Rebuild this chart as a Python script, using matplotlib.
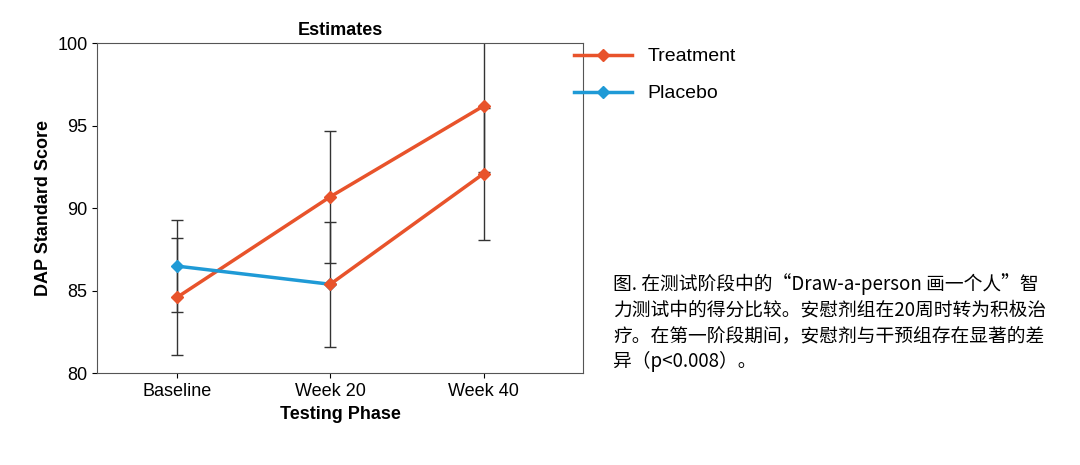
import numpy as np
import matplotlib.pyplot as plt

plt.rcParams['font.family'] = ['Liberation Sans', 'Noto Sans CJK SC', 'DejaVu Sans']

phases = ["Baseline", "Week 20", "Week 40"]
treat_mean = [84.6, 90.7, 96.2]
treat_lo = [81.1, 86.7, 92.2]
treat_hi = [88.2, 94.7, 100.4]
plac_mean = [86.5, 85.4, 92.1]
plac_lo = [83.7, 81.6, 88.1]
plac_hi = [89.3, 89.2, 96.1]

ORANGE = "#e8532b"
BLUE = "#1f9ad6"

fig = plt.figure(figsize=(10.8, 4.65), dpi=100)
ax = fig.add_axes([0.09, 0.197, 0.45, 0.71])
x = np.arange(3)

for m, lo, hi in [(treat_mean, treat_lo, treat_hi), (plac_mean, plac_lo, plac_hi)]:
    m = np.array(m)
    ax.errorbar(x, m, yerr=[m - np.array(lo), np.array(hi) - m], fmt="none",
                ecolor="#333333", elinewidth=1, capsize=4, zorder=2)

ax.plot(x, treat_mean, color=ORANGE, lw=2.5, marker="D", ms=6, label="Treatment", zorder=3)
ax.plot(x[:2], plac_mean[:2], color=BLUE, lw=2.5, marker="D", ms=6, label="Placebo", zorder=3)
ax.plot(x[1:], plac_mean[1:], color=ORANGE, lw=2.5, marker="D", ms=6, zorder=3)

ax.set_xlim(-0.52, 2.65)
ax.set_ylim(80, 100)
ax.set_yticks([80, 85, 90, 95, 100])
ax.set_xticks(x)
ax.set_xticklabels(phases)
ax.tick_params(labelsize=13)
ax.set_title("Estimates", fontsize=13, fontweight="bold", pad=6)
ax.set_xlabel("Testing Phase", fontsize=13, fontweight="bold")
ax.set_ylabel("DAP Standard Score", fontsize=13, fontweight="bold")
for s in ax.spines.values():
    s.set_color("#555555")

fig.legend(loc="upper left", bbox_to_anchor=(0.515, 0.935), frameon=False,
           fontsize=14, handlelength=3, labelspacing=1.0)

fig.text(0.568, 0.21,
         "图. 在测试阶段中的“Draw-a-person 画一个人”智\n力测试中的得分比较。安慰剂组在20周时转为积极治\n疗。在第一阶段期间，安慰剂与干预组存在显著的差\n异（p<0.008）。",
         fontsize=13.5, family=['Noto Sans CJK SC', 'DejaVu Sans'], linespacing=1.3)

fig.savefig("out.png", dpi=100)
